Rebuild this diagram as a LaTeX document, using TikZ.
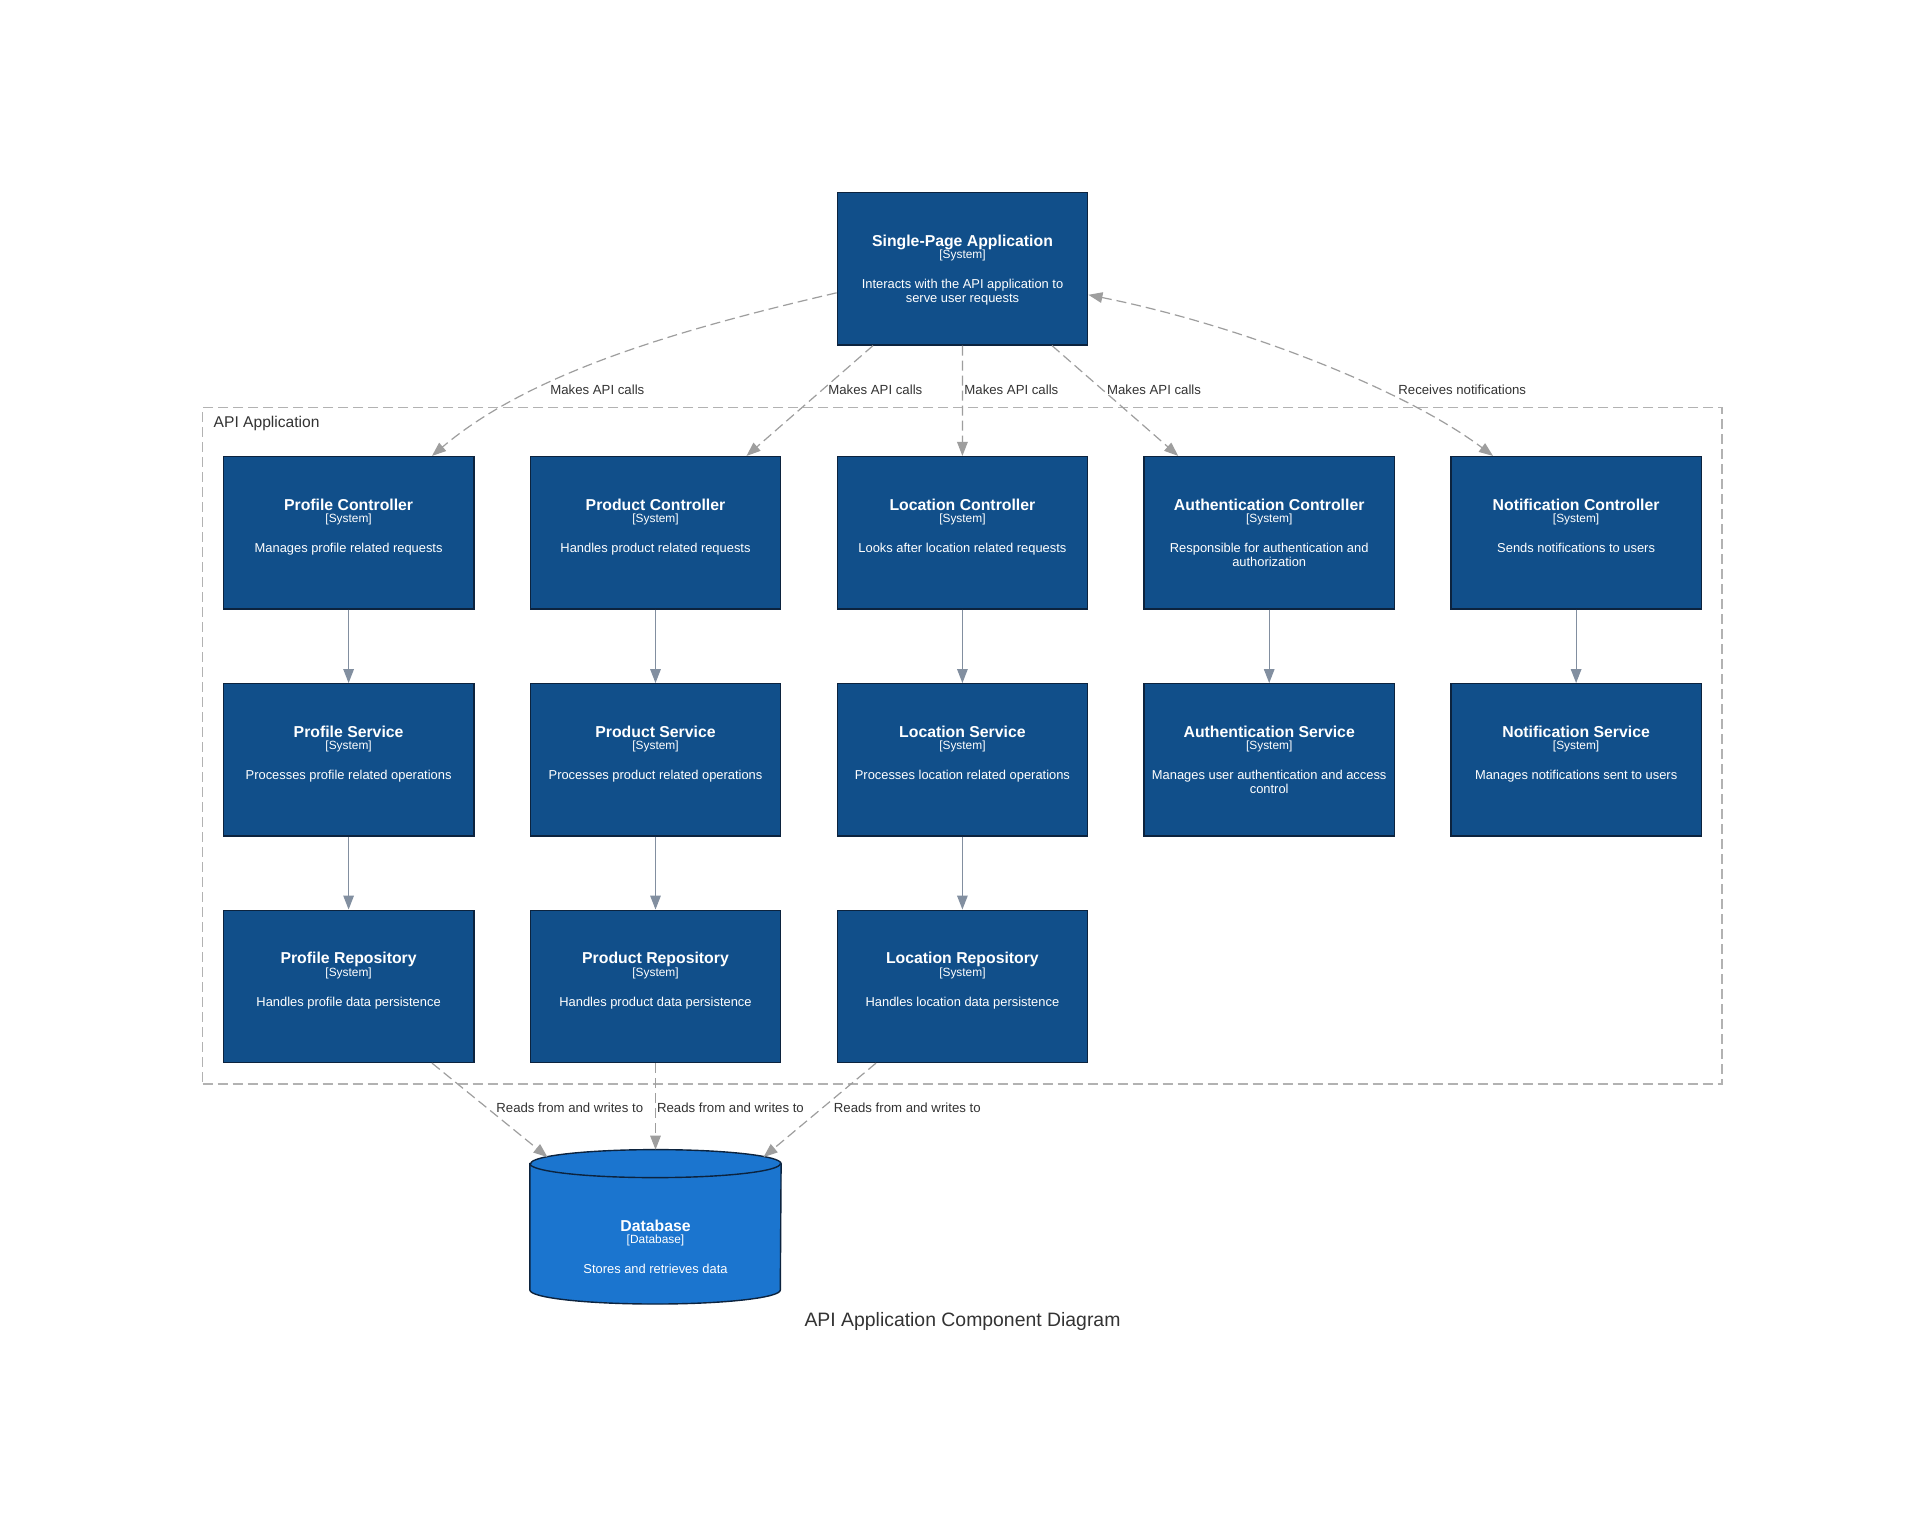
\documentclass[tikz,border=0pt]{standalone}
\usepackage{fontspec}
\setmainfont{Liberation Sans}
\usetikzlibrary{arrows.meta}
\definecolor{boxblue}{RGB}{17,79,138}
\definecolor{dbblue}{RGB}{27,117,207}
\definecolor{boxline}{RGB}{12,35,62}
\definecolor{dashgray}{RGB}{158,158,158}
\definecolor{solidgray}{RGB}{130,143,160}
\definecolor{boundgray}{RGB}{178,178,178}
\definecolor{labelgray}{RGB}{51,51,51}
\newcommand{\comp}[5]{%
	\node [comp] (#1) at (#2) {};
	\node [comptitle] (#1-title) at ([yshift=-27.2pt]#1.north) {#3};
	\node [comptag] (#1-tag) at ([yshift=-33.35pt]#1.north) {[#4]};
	\node [compdesc] (#1-desc) at ([yshift=-48.35pt]#1.north) {\parbox[t]{124pt}{\centering #5}};
}
\begin{document}
\begin{tikzpicture}[x=0.5pt, y=0.5pt, >={Triangle[length=7pt,width=5.3pt]},
	comp/.style={draw=boxline, line width=0.7pt, fill=boxblue, minimum width=125.2pt, minimum height=76.1pt},
	comptitle/.style={anchor=base, text=white, font=\bfseries\fontsize{7.9}{9}\selectfont},
	comptag/.style={anchor=base, text=white, font=\fontsize{5.95}{7}\selectfont},
	compdesc/.style={anchor=base, text=white, font=\fontsize{6.45}{6.75}\selectfont},
	rel/.style={draw=dashgray, line width=0.6pt, dash pattern=on 5pt off 2.5pt, ->},
	flow/.style={draw=solidgray, line width=0.6pt, ->},
	rellabel/.style={anchor=base west, text=labelgray, font=\fontsize{6.6}{8}\selectfont},
	boundary/.style={draw=boundgray, line width=0.6pt, dash pattern=on 5pt off 2.5pt, minimum width=759.75pt, minimum height=338.25pt}]
	\tikzstyle{every node}+=[inner sep=0pt]
	\useasboundingbox (0,0) rectangle (1925,-1528);
	\fill [white] (0,0) rectangle (1925,-1528);
	\node [boundary] (apiapp) at (962.25,-745.75) {};
	\node [anchor=base west, text=labelgray, font=\fontsize{7.8}{9}\selectfont] (apiapp-label) at (213.3,-427.7) {API Application};
	\comp{spa}{962.5,-268.8}{Single-Page Application}{System}{Interacts with the API application to\\serve user requests}
	\comp{profctl}{348.6,-532.7}{Profile Controller}{System}{Manages profile related requests}
	\comp{prodctl}{655.5,-532.7}{Product Controller}{System}{Handles product related requests}
	\comp{locctl}{962.4,-532.7}{Location Controller}{System}{Looks after location related requests}
	\comp{authctl}{1269.2,-532.7}{Authentication Controller}{System}{Responsible for authentication and\\authorization}
	\comp{notifctl}{1576.1,-532.7}{Notification Controller}{System}{Sends notifications to users}
	\comp{profsvc}{348.6,-759.8}{Profile Service}{System}{Processes profile related operations}
	\comp{prodsvc}{655.5,-759.8}{Product Service}{System}{Processes product related operations}
	\comp{locsvc}{962.4,-759.8}{Location Service}{System}{Processes location related operations}
	\comp{authsvc}{1269.2,-759.8}{Authentication Service}{System}{Manages user authentication and access\\control}
	\comp{notifsvc}{1576.1,-759.8}{Notification Service}{System}{Manages notifications sent to users}
	\comp{profrepo}{348.6,-986.3}{Profile Repository}{System}{Handles profile data persistence}
	\comp{prodrepo}{655.5,-986.3}{Product Repository}{System}{Handles product data persistence}
	\comp{locrepo}{962.4,-986.3}{Location Repository}{System}{Handles location data persistence}
	\node [minimum width=125.2pt, minimum height=76.8pt] (db) at (655.5,-1226.8) {};
	\draw [boxline, line width=0.7pt, fill=dbblue] ([yshift=-7pt]db.north west) -- ([yshift=7pt]db.south west) arc [start angle=180, end angle=360, x radius=62.6pt, y radius=7pt] -- ([yshift=-7pt]db.north east) arc [start angle=0, end angle=180, x radius=62.6pt, y radius=7pt] -- cycle;
	\draw [boxline, line width=0.7pt] ([yshift=-7pt]db.north west) arc [start angle=180, end angle=360, x radius=62.6pt, y radius=7pt];
	\node [comptitle] (db-title) at ([yshift=-41pt]db.north) {Database};
	\node [comptag] (db-tag) at ([yshift=-47.15pt]db.north) {[Database]};
	\node [compdesc] (db-desc) at ([yshift=-62.15pt]db.north) {Stores and retrieves data};
	\draw [rel] ([yshift=-12pt]spa.west) .. controls +(-150,-35) and +(100,85) .. ([xshift=41.7pt]profctl.north);
	\node [rellabel] (spa-profctl) at (550,-394) {Makes API calls};
	\draw [rel] ([xshift=-44.75pt]spa.south) -- ([xshift=45.5pt]prodctl.north);
	\node [rellabel] (spa-prodctl) at (828,-394) {Makes API calls};
	\draw [rel] (spa.south) -- (locctl.north);
	\node [rellabel] (spa-locctl) at (964,-394) {Makes API calls};
	\draw [rel] ([xshift=44.75pt]spa.south) -- ([xshift=-45.5pt]authctl.north);
	\node [rellabel] (spa-authctl) at (1106.7,-394) {Makes API calls};
	\draw [rel, <->] ([yshift=-13pt]spa.east) .. controls +(150,-30) and +(-90,67.5) .. ([xshift=-41.55pt]notifctl.north);
	\node [rellabel] (spa-notifctl) at (1398,-394) {Receives notifications};
	\draw [flow] (profctl.south) -- (profsvc.north);
	\draw [flow] (prodctl.south) -- (prodsvc.north);
	\draw [flow] (locctl.south) -- (locsvc.north);
	\draw [flow] (authctl.south) -- (authsvc.north);
	\draw [flow] (notifctl.south) -- (notifsvc.north);
	\draw [flow] (profsvc.south) -- (profrepo.north);
	\draw [flow] (prodsvc.south) -- (prodrepo.north);
	\draw [flow] (locsvc.south) -- (locrepo.north);
	\draw [rel] ([xshift=41.7pt]profrepo.south) -- ([xshift=-54pt,yshift=-3.75pt]db.north);
	\node [rellabel] (profrepo-db) at (496,-1112) {Reads from and writes to};
	\draw [rel] (prodrepo.south) -- (db.north);
	\node [rellabel] (prodrepo-db) at (656.7,-1112) {Reads from and writes to};
	\draw [rel] ([xshift=-43.2pt]locrepo.south) -- ([xshift=54pt,yshift=-3.75pt]db.north);
	\node [rellabel] (locrepo-db) at (833.5,-1112) {Reads from and writes to};
	\node [anchor=base, text=labelgray, font=\fontsize{9.7}{11}\selectfont] (diagram-title) at (962.5,-1326) {API Application Component Diagram};
\end{tikzpicture}
\end{document}
